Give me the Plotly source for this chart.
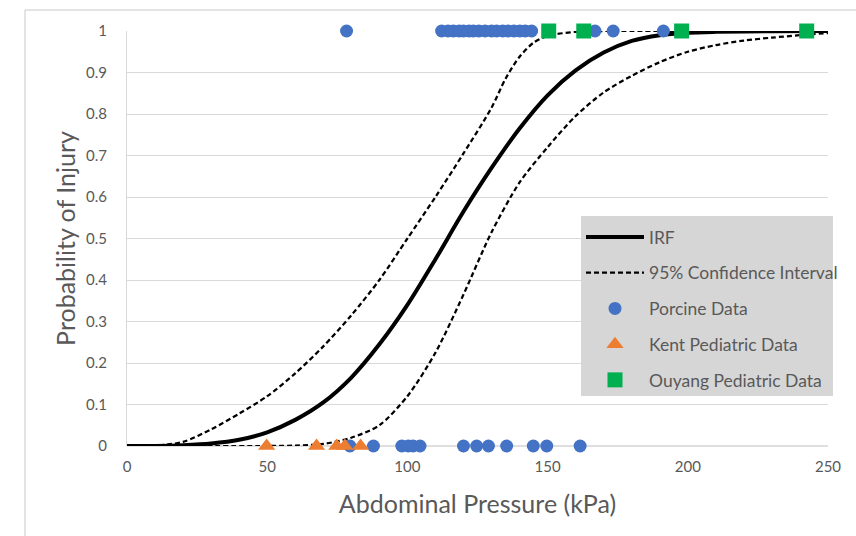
import plotly.graph_objects as go

# ---- data ----
irf_x = [0, 10, 20, 30, 40, 50, 60, 70, 80, 90, 100, 110, 120, 130, 140, 150, 160, 170, 180, 190, 200, 210, 230, 250]
irf_p = [0, 0.0003, 0.002, 0.006, 0.015, 0.033, 0.063, 0.105, 0.165, 0.245, 0.34, 0.45, 0.565, 0.67, 0.765, 0.845, 0.905, 0.948, 0.976, 0.99, 0.996, 0.998, 0.9995, 1.0]

ci_up_x = [0, 10, 20, 30, 40, 50, 60, 70, 80, 90, 100, 110, 120, 130, 135, 140, 145, 150, 160, 170, 250]
ci_up_p = [0, 0.001, 0.01, 0.04, 0.078, 0.12, 0.175, 0.24, 0.315, 0.40, 0.50, 0.60, 0.705, 0.815, 0.885, 0.938, 0.972, 0.988, 0.998, 1.0, 1.0]

ci_lo_x = [0, 50, 60, 70, 80, 90, 100, 110, 120, 130, 140, 150, 160, 170, 180, 190, 200, 210, 220, 230, 240, 250]
ci_lo_p = [0, 0, 0.001, 0.005, 0.02, 0.05, 0.12, 0.225, 0.365, 0.515, 0.635, 0.72, 0.795, 0.852, 0.892, 0.925, 0.95, 0.966, 0.977, 0.984, 0.99, 0.995]

porcine_x = [78.3, 112.2, 114.5, 116.4, 118.5, 120, 122, 123.5, 125.5, 127.7, 130, 131.8, 134, 135.9, 138, 140.1, 142, 144.3, 166.9, 173.4, 191.3,
             79.5, 87.9, 98, 100.3, 102, 104.5, 120, 124.7, 128.9, 135.4, 144.9, 149.7, 161.6]
porcine_y = [1] * 21 + [0] * 13

kent_x = [49.8, 67.6, 74.8, 77.7, 83.3]
kent_y = [0, 0, 0, 0, 0]

ouyang_x = [150.4, 162.9, 197.8, 242.4]
ouyang_y = [1, 1, 1, 1]

x_ticks = [0, 50, 100, 150, 200, 250]
y_ticks = [0, 0.1, 0.2, 0.3, 0.4, 0.5, 0.6, 0.7, 0.8, 0.9, 1]
y_tick_text = ["0", "0.1", "0.2", "0.3", "0.4", "0.5", "0.6", "0.7", "0.8", "0.9", "1"]

FONT = "Lato"
GREY_TXT = "#595959"
DASH = "5px,3px"

fig = go.Figure()
fig.add_trace(go.Scatter(x=irf_x, y=irf_p, mode="lines", name="IRF", legendgroup="a",
                         line=dict(color="black", width=4, shape="spline", smoothing=0.8), cliponaxis=False))
fig.add_trace(go.Scatter(x=ci_lo_x, y=ci_lo_p, mode="lines", name="95% Confidence Interval", legendgroup="b",
                         line=dict(color="black", width=2.25, dash=DASH, shape="spline", smoothing=0.8), cliponaxis=False))
fig.add_trace(go.Scatter(x=ci_up_x, y=ci_up_p, mode="lines", name="95% Confidence Interval", legendgroup="b",
                         showlegend=False,
                         line=dict(color="black", width=2.25, dash=DASH, shape="spline", smoothing=0.8), cliponaxis=False))
fig.add_trace(go.Scatter(x=porcine_x, y=porcine_y, mode="markers", name="Porcine Data", legendgroup="c",
                         marker=dict(symbol="circle", size=13, color="#4472C4"), cliponaxis=False))
fig.add_trace(go.Scatter(x=kent_x, y=kent_y, mode="markers", name="Kent Pediatric Data", legendgroup="d",
                         marker=dict(symbol="triangle-up", size=15, color="#ED7D31"), cliponaxis=False))
fig.add_trace(go.Scatter(x=ouyang_x, y=ouyang_y, mode="markers", name="Ouyang Pediatric Data", legendgroup="e",
                         marker=dict(symbol="square", size=15, color="#00B050"), cliponaxis=False))

L, R, T, B = 127, 28, 31, 90
W, H = 856, 536
pw, ph = W - L - R, H - T - B

def px_x(p):
    return (p - L) / pw

def px_y(p):
    return (H - B - p) / ph

shapes = [
    # outer chart frame
    dict(type="rect", xref="paper", yref="paper", x0=px_x(25), x1=px_x(870), y0=px_y(560), y1=px_y(10),
         line=dict(color="#c8c8c8", width=1), fillcolor="rgba(0,0,0,0)", layer="below"),
    # legend box
    dict(type="rect", xref="paper", yref="paper", x0=px_x(581), x1=px_x(833), y0=px_y(396), y1=px_y(216),
         line=dict(width=0), fillcolor="#d6d6d6", layer="above"),
    # x-axis baseline (y = 0)
    dict(type="line", xref="paper", yref="paper", x0=0, x1=1, y0=0, y1=0,
         line=dict(color="#bfbfbf", width=1), layer="below"),
]

fig.update_layout(
    width=W, height=H,
    margin=dict(l=L, r=R, t=T, b=B, autoexpand=False),
    paper_bgcolor="white", plot_bgcolor="white",
    font=dict(family=FONT, color=GREY_TXT),
    shapes=shapes,
    showlegend=True,
    legend=dict(x=px_x(581), y=px_y(219), xanchor="left", yanchor="top",
                bgcolor="rgba(0,0,0,0)", borderwidth=0,
                font=dict(family=FONT, size=17.5, color=GREY_TXT),
                traceorder="grouped", tracegroupgap=10, itemwidth=58),
    xaxis=dict(range=[0, 250], tickvals=x_ticks, showgrid=False, zeroline=False,
               showline=False, ticks="", ticklabelstandoff=10,
               tickfont=dict(size=15, color=GREY_TXT),
               title=dict(text="Abdominal Pressure (kPa)", font=dict(size=25, color=GREY_TXT), standoff=21)),
    yaxis=dict(range=[0, 1], tickvals=y_ticks, ticktext=y_tick_text, showgrid=True,
               gridcolor="#d9d9d9", gridwidth=1, zeroline=False,
               showline=True, linecolor="#d9d9d9", linewidth=1, ticks="",
               ticklabelstandoff=16,
               tickfont=dict(size=15, color=GREY_TXT),
               title=dict(text="Probability of Injury", font=dict(size=25, color=GREY_TXT), standoff=3)),
)

fig.write_html("out.html", config={"displayModeBar": False},
               post_script="document.body.style.margin='0px';")
